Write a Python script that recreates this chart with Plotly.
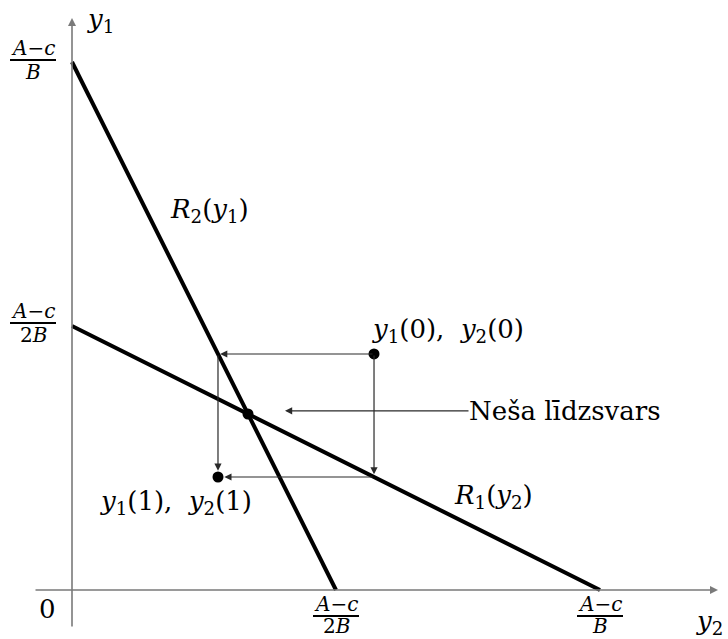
import plotly.graph_objects as go

# Quantities in units of (A-c)/B
r2_intercepts = [1.0, 0.5]     # R2(y1): y1-axis intercept, y2-axis intercept
r1_intercepts = [0.5, 1.0]     # R1(y2): y1-axis intercept, y2-axis intercept
start_point = [0.572, 0.447]   # (y2(0), y1(0))

def r2_y2(y1):
    # firm 2 best response to y1
    return r2_intercepts[1] * (1 - y1 / r2_intercepts[0])

def r1_y1(y2):
    # firm 1 best response to y2
    return r1_intercepts[0] * (1 - y2 / r1_intercepts[1])

eq_y2 = 1.0 / 3.0
eq_y1 = r1_y1(eq_y2)

next_y2 = r2_y2(start_point[1])
next_y1 = r1_y1(start_point[0])

PX = 528.0
W, H = 728, 639
x0px, y0px = 72, 590
xr = [-x0px / PX, (W - x0px) / PX]
yr = [-(H - y0px) / PX, y0px / PX]

def px_x(p):
    return (p - x0px) / PX

def px_y(p):
    return (y0px - p) / PX

fig = go.Figure()

# reaction functions
fig.add_trace(go.Scatter(x=[0, r2_intercepts[1]], y=[r2_intercepts[0], 0], mode="lines",
                         line=dict(color="black", width=4), hoverinfo="skip"))
fig.add_trace(go.Scatter(x=[0, r1_intercepts[1]], y=[r1_intercepts[0], 0], mode="lines",
                         line=dict(color="black", width=4), hoverinfo="skip"))

# dots: starting point, next iterate, equilibrium
fig.add_trace(go.Scatter(x=[start_point[0], next_y2, eq_y2], y=[start_point[1], next_y1, eq_y1],
                         mode="markers", marker=dict(color="black", size=11), hoverinfo="skip"))

AX = "#7a7a7a"
ARR = "#2a2a2a"
serif = "DejaVu Serif"

def arrow(x, y, ax, ay, color=ARR, width=1.2, head=2, size=1.2):
    fig.add_annotation(x=x, y=y, ax=ax, ay=ay, xref="x", yref="y", axref="x", ayref="y",
                       showarrow=True, arrowhead=head, arrowsize=size, arrowwidth=width,
                       arrowcolor=color, text="", standoff=0, startstandoff=0)

# axes
arrow(px_x(718), 0, px_x(34), 0, color=AX, width=1.6, head=2, size=1.0)
arrow(0, px_y(18), 0, px_y(628), color=AX, width=1.6, head=2, size=1.0)

# adjustment path
arrow(next_y2 + 0.004, start_point[1], start_point[0], start_point[1])
arrow(start_point[0], next_y1 + 0.005, start_point[0], start_point[1])
arrow(next_y2, next_y1 + 0.012, next_y2, start_point[1])
arrow(next_y2 + 0.012, next_y1, start_point[0], next_y1)

# pointer to the equilibrium label
arrow(px_x(285), eq_y1 + 0.006, px_x(470), eq_y1 + 0.006, width=1.2)

def label(text, xp, yp, size=26, anchor="center"):
    fig.add_annotation(x=px_x(xp), y=px_y(yp), xref="x", yref="y", text=text, showarrow=False,
                       xanchor=anchor, yanchor="middle", borderpad=0,
                       font=dict(family=serif, size=size, color="black"))

label("<i>y</i><sub>1</sub>", 100, 20)
label("<i>y</i><sub>2</sub>", 709, 622)
label("0", 47, 609)
label("<i>R</i><sub>2</sub>(<i>y</i><sub>1</sub>)", 209, 210)
label("<i>R</i><sub>1</sub>(<i>y</i><sub>2</sub>)", 493, 496)
label("<i>y</i><sub>1</sub>(0),  <i>y</i><sub>2</sub>(0)", 448, 330)
label("<i>y</i><sub>1</sub>(1),  <i>y</i><sub>2</sub>(1)", 176, 502)
label("Neša līdzsvars", 468, 411, anchor="left")

def fraction(xc, ybar, num, den, half=23, dy=(12, 12)):
    fig.add_shape(type="line", x0=px_x(xc - half), x1=px_x(xc + half), y0=px_y(ybar), y1=px_y(ybar),
                  xref="x", yref="y", line=dict(color="black", width=2))
    label(num, xc, ybar - dy[0], size=20)
    label(den, xc, ybar + dy[1], size=20)

num = "<i>A</i>−<i>c</i>"
fraction(33, 60, num, "<i>B</i>")
fraction(33, 323, num, "2<i>B</i>")
fraction(336, 616, num, "2<i>B</i>", dy=(12, 10))
fraction(600, 616, num, "<i>B</i>", dy=(12, 10))

fig.update_layout(width=W, height=H, margin=dict(l=0, r=0, t=0, b=0),
                  paper_bgcolor="white", plot_bgcolor="white", showlegend=False,
                  xaxis=dict(range=xr, visible=False, fixedrange=True),
                  yaxis=dict(range=yr, visible=False, fixedrange=True))

fig.write_html("out.html")
